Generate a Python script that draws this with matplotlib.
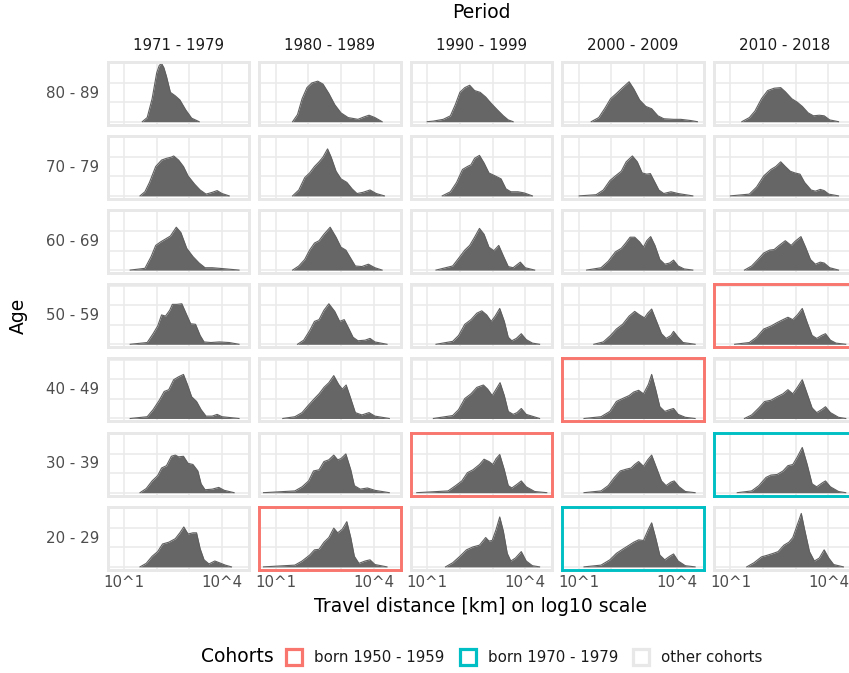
import matplotlib
matplotlib.use("Agg")
import matplotlib.pyplot as plt
from matplotlib.patches import Rectangle

# facet labels
periods = ["1971 - 1979", "1980 - 1989", "1990 - 1999", "2000 - 2009", "2010 - 2018"]
period_start = [1971, 1980, 1990, 2000, 2010]
ages = ["80 - 89", "70 - 79", "60 - 69", "50 - 59", "40 - 49", "30 - 39", "20 - 29"]
age_start = [80, 70, 60, 50, 40, 30, 20]

# cohorts: period start - age start
cohort_names = {1960: "born 1950 - 1959", 1980: "born 1970 - 1979"}
cohort_colors = {"born 1950 - 1959": "#F8766D", "born 1970 - 1979": "#00BFC4",
                 "other cohorts": "#E8E8E8"}

tick_pos = [1, 2, 3, 4]
tick_lab = ["10^1", "", "", "10^4"]

# density curves: (log10 km, density) per period
dens_80_89 = [
    [(1.56, 0), (1.71, 0.07), (1.86, 0.39), (2.0, 0.83), (2.08, 0.96), (2.15, 0.99), (2.22, 0.92),
     (2.30, 0.77), (2.42, 0.50), (2.57, 0.44), (2.71, 0.37), (2.89, 0.20), (3.07, 0.06), (3.30, 0)],
    [(1.52, 0), (1.67, 0.12), (1.81, 0.39), (1.96, 0.58), (2.11, 0.66), (2.29, 0.69), (2.45, 0.64),
     (2.63, 0.48), (2.81, 0.29), (3.0, 0.15), (3.22, 0.07), (3.52, 0.04), (3.70, 0.08), (3.86, 0.11),
     (4.04, 0.07), (4.26, 0)],
    [(1.0, 0), (1.19, 0.01), (1.49, 0.04), (1.71, 0.1), (1.86, 0.29), (2.0, 0.5), (2.15, 0.58),
     (2.30, 0.62), (2.45, 0.53), (2.62, 0.50), (2.79, 0.42), (2.96, 0.31), (3.15, 0.2), (3.33, 0.1),
     (3.48, 0.03), (3.63, 0)],
    [(1.38, 0), (1.61, 0.07), (1.80, 0.23), (1.97, 0.39), (2.15, 0.48), (2.34, 0.58), (2.54, 0.68),
     (2.68, 0.56), (2.86, 0.37), (3.05, 0.26), (3.23, 0.22), (3.42, 0.1), (3.60, 0.05), (3.90, 0.04),
     (4.12, 0.04), (4.42, 0.02), (4.63, 0)],
    [(1.35, 0), (1.58, 0.07), (1.75, 0.18), (1.95, 0.39), (2.14, 0.53), (2.34, 0.57), (2.54, 0.58),
     (2.68, 0.51), (2.88, 0.39), (3.05, 0.33), (3.20, 0.26), (3.38, 0.15), (3.54, 0.1), (3.72, 0.11),
     (3.87, 0.1), (4.04, 0.03), (4.31, 0)],
]
dens_70_79 = [
    [(1.49, 0), (1.64, 0.07), (1.78, 0.23), (1.97, 0.5), (2.15, 0.61), (2.30, 0.64), (2.45, 0.66),
     (2.52, 0.68), (2.67, 0.61), (2.82, 0.5), (2.96, 0.34), (3.16, 0.2), (3.33, 0.1), (3.51, 0.03),
     (3.70, 0.06), (3.85, 0.09), (4.0, 0.04), (4.22, 0)],
    [(1.52, 0), (1.71, 0.1), (1.89, 0.31), (2.04, 0.39), (2.19, 0.5), (2.33, 0.58), (2.45, 0.66),
     (2.59, 0.8), (2.70, 0.66), (2.85, 0.42), (3.0, 0.29), (3.18, 0.23), (3.34, 0.12), (3.49, 0.04),
     (3.67, 0.06), (3.89, 0.1), (4.08, 0.04), (4.33, 0)],
    [(1.46, 0), (1.71, 0.07), (1.90, 0.23), (2.08, 0.45), (2.23, 0.5), (2.34, 0.53), (2.45, 0.64),
     (2.60, 0.69), (2.74, 0.56), (2.89, 0.39), (3.08, 0.34), (3.26, 0.29), (3.41, 0.12), (3.56, 0.07),
     (3.78, 0.07), (3.97, 0.05), (4.22, 0)],
    [(1.01, 0), (1.53, 0.02), (1.75, 0.1), (1.95, 0.26), (2.12, 0.34), (2.30, 0.42), (2.45, 0.58),
     (2.64, 0.68), (2.79, 0.58), (2.94, 0.39), (3.08, 0.37), (3.19, 0.38), (3.33, 0.23), (3.45, 0.1),
     (3.60, 0.04), (3.82, 0.07), (4.04, 0.04), (4.49, 0)],
    [(1.0, 0), (1.58, 0.03), (1.80, 0.15), (2.02, 0.34), (2.24, 0.45), (2.39, 0.5), (2.54, 0.58),
     (2.68, 0.5), (2.83, 0.42), (2.98, 0.39), (3.13, 0.37), (3.27, 0.23), (3.47, 0.1), (3.60, 0.08),
     (3.75, 0.11), (3.87, 0.09), (4.01, 0.03), (4.31, 0)],
]
dens_60_69 = [
    [(1.19, 0), (1.64, 0.03), (1.83, 0.23), (1.97, 0.42), (2.12, 0.48), (2.27, 0.53), (2.42, 0.58),
     (2.60, 0.73), (2.74, 0.64), (2.92, 0.37), (3.11, 0.23), (3.30, 0.12), (3.48, 0.04), (3.70, 0.04),
     (3.92, 0.03), (4.52, 0)],
    [(1.52, 0), (1.71, 0.07), (1.89, 0.18), (2.04, 0.34), (2.19, 0.46), (2.33, 0.5), (2.48, 0.61),
     (2.67, 0.73), (2.85, 0.56), (3.0, 0.39), (3.15, 0.34), (3.30, 0.2), (3.44, 0.07), (3.64, 0.06),
     (3.84, 0.1), (4.04, 0.04), (4.26, 0)],
    [(1.27, 0), (1.78, 0.07), (1.96, 0.2), (2.15, 0.34), (2.30, 0.42), (2.45, 0.56), (2.60, 0.71),
     (2.74, 0.61), (2.89, 0.39), (3.04, 0.33), (3.19, 0.42), (3.34, 0.23), (3.48, 0.06), (3.63, 0.04),
     (3.85, 0.135), (4.0, 0.04), (4.29, 0)],
    [(1.24, 0), (1.68, 0.04), (1.90, 0.15), (2.12, 0.31), (2.30, 0.37), (2.42, 0.45), (2.57, 0.56),
     (2.71, 0.56), (2.86, 0.48), (2.98, 0.39), (3.08, 0.5), (3.20, 0.57), (3.33, 0.42), (3.48, 0.18),
     (3.63, 0.1), (3.78, 0.12), (3.90, 0.17), (4.04, 0.07), (4.22, 0.02), (4.49, 0)],
    [(1.43, 0), (1.65, 0.07), (1.84, 0.18), (2.02, 0.29), (2.20, 0.34), (2.34, 0.35), (2.49, 0.42),
     (2.68, 0.5), (2.86, 0.42), (2.98, 0.49), (3.16, 0.57), (3.30, 0.39), (3.45, 0.18), (3.60, 0.1),
     (3.75, 0.135), (3.87, 0.12), (4.04, 0.04), (4.31, 0)],
]
dens_50_59 = [
    [(1.19, 0), (1.71, 0.03), (1.89, 0.18), (2.03, 0.31), (2.15, 0.5), (2.27, 0.48), (2.40, 0.58),
     (2.48, 0.68), (2.62, 0.68), (2.77, 0.69), (2.92, 0.5), (3.04, 0.35), (3.19, 0.34), (3.33, 0.15),
     (3.45, 0.04), (3.66, 0.03), (3.92, 0.04), (4.22, 0.03), (4.52, 0)],
    [(1.67, 0), (1.86, 0.07), (2.04, 0.23), (2.19, 0.39), (2.33, 0.42), (2.48, 0.58), (2.63, 0.69),
     (2.81, 0.56), (2.96, 0.39), (3.10, 0.42), (3.22, 0.29), (3.37, 0.12), (3.52, 0.06), (3.74, 0.07),
     (3.89, 0.1), (4.04, 0.04), (4.41, 0)],
    [(1.27, 0), (1.78, 0.05), (1.96, 0.15), (2.15, 0.34), (2.34, 0.42), (2.52, 0.53), (2.67, 0.57),
     (2.82, 0.5), (2.96, 0.39), (3.08, 0.48), (3.22, 0.61), (3.36, 0.39), (3.48, 0.12), (3.59, 0.06),
     (3.73, 0.1), (3.88, 0.18), (4.03, 0.08), (4.22, 0.02), (4.44, 0)],
    [(1.46, 0), (1.75, 0.04), (1.97, 0.15), (2.15, 0.26), (2.34, 0.34), (2.54, 0.48), (2.71, 0.56),
     (2.86, 0.5), (3.01, 0.45), (3.11, 0.53), (3.23, 0.6), (3.38, 0.39), (3.53, 0.18), (3.67, 0.1),
     (3.82, 0.15), (3.90, 0.22), (4.04, 0.12), (4.19, 0.03), (4.56, 0)],
    [(1.13, 0), (1.58, 0.03), (1.80, 0.12), (2.02, 0.26), (2.24, 0.31), (2.43, 0.37), (2.61, 0.42),
     (2.76, 0.46), (2.91, 0.42), (3.05, 0.5), (3.20, 0.61), (3.35, 0.37), (3.50, 0.15), (3.64, 0.1),
     (3.79, 0.15), (3.91, 0.18), (4.06, 0.07), (4.23, 0.02), (4.53, 0)],
]
dens_40_49 = [
    [(1.19, 0), (1.71, 0.03), (1.89, 0.15), (2.08, 0.31), (2.23, 0.46), (2.37, 0.49), (2.52, 0.66),
     (2.67, 0.71), (2.82, 0.75), (2.94, 0.58), (3.07, 0.37), (3.22, 0.29), (3.36, 0.15), (3.51, 0.04),
     (3.70, 0.04), (3.85, 0.07), (4.0, 0.03), (4.52, 0)],
    [(1.22, 0), (1.59, 0.03), (1.81, 0.1), (2.01, 0.23), (2.19, 0.34), (2.33, 0.42), (2.48, 0.53),
     (2.63, 0.61), (2.78, 0.73), (2.93, 0.58), (3.04, 0.5), (3.16, 0.57), (3.30, 0.34), (3.44, 0.1),
     (3.64, 0.06), (3.86, 0.1), (4.04, 0.04), (4.48, 0)],
    [(1.19, 0), (1.78, 0.05), (1.96, 0.15), (2.15, 0.34), (2.34, 0.42), (2.52, 0.53), (2.72, 0.57),
     (2.85, 0.5), (2.99, 0.39), (3.11, 0.5), (3.23, 0.61), (3.36, 0.39), (3.48, 0.12), (3.63, 0.07),
     (3.75, 0.1), (3.88, 0.17), (4.03, 0.07), (4.44, 0)],
    [(1.16, 0), (1.68, 0.03), (1.95, 0.12), (2.15, 0.29), (2.34, 0.34), (2.54, 0.39), (2.68, 0.45),
     (2.83, 0.48), (2.98, 0.42), (3.13, 0.58), (3.23, 0.75), (3.35, 0.5), (3.48, 0.2), (3.63, 0.12),
     (3.78, 0.15), (3.90, 0.17), (4.04, 0.07), (4.26, 0.02), (4.56, 0)],
    [(1.43, 0), (1.65, 0.06), (1.87, 0.18), (2.05, 0.29), (2.24, 0.31), (2.43, 0.37), (2.61, 0.42),
     (2.76, 0.49), (2.91, 0.42), (3.05, 0.53), (3.20, 0.66), (3.35, 0.42), (3.50, 0.18), (3.64, 0.1),
     (3.79, 0.15), (3.91, 0.2), (4.06, 0.1), (4.31, 0.02), (4.53, 0)],
]
dens_30_39 = [
    [(1.49, 0), (1.68, 0.07), (1.86, 0.2), (2.03, 0.29), (2.15, 0.42), (2.30, 0.46), (2.45, 0.62),
     (2.57, 0.64), (2.67, 0.61), (2.82, 0.62), (2.96, 0.5), (3.11, 0.48), (3.26, 0.37), (3.36, 0.15),
     (3.48, 0.05), (3.70, 0.06), (3.90, 0.09), (4.07, 0.04), (4.37, 0)],
    [(0.63, 0), (1.59, 0.03), (1.81, 0.1), (2.01, 0.2), (2.16, 0.37), (2.33, 0.39), (2.48, 0.53),
     (2.63, 0.56), (2.78, 0.64), (2.90, 0.56), (3.0, 0.58), (3.15, 0.66), (3.30, 0.39), (3.41, 0.12),
     (3.59, 0.06), (3.81, 0.08), (4.04, 0.04), (4.48, 0)],
    [(0.68, 0), (1.64, 0.03), (1.87, 0.12), (2.06, 0.2), (2.23, 0.34), (2.40, 0.39), (2.60, 0.48),
     (2.74, 0.57), (2.89, 0.53), (3.01, 0.48), (3.11, 0.58), (3.22, 0.65), (3.36, 0.39), (3.48, 0.12),
     (3.59, 0.08), (3.73, 0.135), (3.88, 0.2), (4.03, 0.1), (4.29, 0.02), (4.66, 0)],
    [(1.16, 0), (1.68, 0.03), (1.90, 0.12), (2.09, 0.26), (2.27, 0.37), (2.45, 0.4), (2.60, 0.42),
     (2.71, 0.48), (2.83, 0.53), (2.98, 0.45), (3.11, 0.56), (3.23, 0.64), (3.38, 0.42), (3.53, 0.2),
     (3.67, 0.12), (3.82, 0.18), (3.92, 0.2), (4.07, 0.1), (4.26, 0.02), (4.56, 0)],
    [(1.21, 0), (1.65, 0.03), (1.87, 0.12), (2.09, 0.26), (2.24, 0.3), (2.43, 0.31), (2.61, 0.37),
     (2.76, 0.46), (2.91, 0.48), (3.05, 0.61), (3.20, 0.77), (3.35, 0.48), (3.50, 0.15), (3.64, 0.1),
     (3.82, 0.17), (3.91, 0.2), (4.06, 0.1), (4.31, 0.02), (4.53, 0)],
]
dens_20_29 = [
    [(1.49, 0), (1.68, 0.06), (1.86, 0.18), (2.03, 0.26), (2.18, 0.39), (2.37, 0.42), (2.57, 0.48),
     (2.71, 0.58), (2.83, 0.68), (2.96, 0.56), (3.11, 0.58), (3.22, 0.58), (3.33, 0.31), (3.45, 0.12),
     (3.60, 0.05), (3.78, 0.1), (3.92, 0.07), (4.10, 0.03), (4.29, 0)],
    [(0.63, 0), (1.59, 0.03), (1.81, 0.1), (2.04, 0.2), (2.19, 0.29), (2.33, 0.3), (2.48, 0.42),
     (2.63, 0.5), (2.78, 0.66), (2.90, 0.58), (3.04, 0.64), (3.18, 0.77), (3.30, 0.5), (3.41, 0.18),
     (3.55, 0.06), (3.74, 0.1), (3.89, 0.12), (4.04, 0.04), (4.41, 0)],
    [(1.56, 0), (1.78, 0.07), (2.0, 0.18), (2.20, 0.29), (2.40, 0.34), (2.60, 0.37), (2.79, 0.5),
     (2.89, 0.44), (2.99, 0.45), (3.11, 0.64), (3.22, 0.85), (3.33, 0.61), (3.45, 0.23), (3.56, 0.1),
     (3.70, 0.15), (3.88, 0.26), (4.03, 0.1), (4.22, 0.02), (4.44, 0)],
    [(1.16, 0), (1.68, 0.03), (1.95, 0.12), (2.15, 0.23), (2.34, 0.3), (2.54, 0.37), (2.68, 0.42),
     (2.83, 0.46), (2.98, 0.45), (3.13, 0.64), (3.23, 0.75), (3.35, 0.5), (3.48, 0.2), (3.63, 0.12),
     (3.78, 0.18), (3.90, 0.22), (4.04, 0.1), (4.26, 0.02), (4.56, 0)],
    [(1.50, 0), (1.72, 0.07), (1.95, 0.17), (2.14, 0.2), (2.31, 0.23), (2.46, 0.26), (2.64, 0.37),
     (2.79, 0.42), (2.91, 0.5), (3.05, 0.72), (3.17, 0.91), (3.27, 0.64), (3.42, 0.26), (3.57, 0.1),
     (3.72, 0.15), (3.87, 0.29), (4.01, 0.15), (4.16, 0.04), (4.46, 0)],
]
dens_rows = [dens_80_89, dens_70_79, dens_60_69, dens_50_59, dens_40_49, dens_30_39, dens_20_29]

W, H = 849, 673
fig = plt.figure(figsize=(W / 100, H / 100), dpi=100)

# panel layout in pixels
x0, dx, pw = 107.5, 151.6, 141.5
y0, dy, ph = 61.5, 74.2, 63

for i, age in enumerate(ages):
    for j, per in enumerate(periods):
        left = x0 + j * dx
        top = y0 + i * dy
        ax = fig.add_axes([left / W, 1 - (top + ph) / H, pw / W, ph / H])
        pts = dens_rows[i][j]
        xs = [p[0] for p in pts]
        ys = [p[1] for p in pts]
        ax.fill_between(xs, 0, ys, color="#666666", lw=0, zorder=2)
        ax.plot(xs, ys, color="#5f5f5f", lw=0.8, zorder=3)
        ax.set_xlim(0.495, 4.826)
        ax.set_ylim(-0.048, 1.025)
        ax.set_xticks(tick_pos)
        ax.set_yticks([0, 1 / 3, 2 / 3, 1])
        ax.set_yticklabels([])
        ax.grid(True, color="#EBEBEB", lw=1.2)
        ax.set_axisbelow(True)
        ax.tick_params(length=0)
        if i == len(ages) - 1:
            ax.set_xticklabels(tick_lab, fontsize=10.8, color="#4D4D4D")
            ax.tick_params(axis="x", pad=4)
        else:
            ax.set_xticklabels([])
        key = period_start[j] - age_start[i]
        coh = cohort_names.get(key, "other cohorts")
        for s in ax.spines.values():
            s.set_color(cohort_colors[coh])
            s.set_linewidth(2.1)
            s.set_zorder(5)
        if i == 0:
            fig.text((left + pw / 2) / W, 1 - 46 / H, per, ha="center", va="center",
                     fontsize=10.8, color="#1A1A1A")
    fig.text(99 / W, 1 - (y0 + i * dy + ph / 2) / H, age, ha="right", va="center",
             fontsize=10.8, color="#4D4D4D")

# titles
fig.text(481 / W, 1 - 12 / H, "Period", ha="center", va="center", fontsize=13.5)
fig.text(481 / W, 1 - 606 / H, "Travel distance [km] on log10 scale", ha="center",
         va="center", fontsize=13.5)
fig.text(18 / W, 1 - 316 / H, "Age", ha="center", va="center", rotation=90, fontsize=13.5)

# legend
ly = 657
fig.text(201 / W, 1 - ly / H, "Cohorts", ha="left", va="center", fontsize=13.5)
leg_items = ["born 1950 - 1959", "born 1970 - 1979", "other cohorts"]
key_x = [294, 468, 641]
for name, kx in zip(leg_items, key_x):
    fig.patches.append(Rectangle(((kx - 8) / W, 1 - (ly + 8) / H), 16 / W, 16 / H,
                                 transform=fig.transFigure, facecolor="white",
                                 edgecolor=cohort_colors[name], lw=2.3))
    fig.text((kx + 20) / W, 1 - ly / H, name, ha="left", va="center", fontsize=10.8,
             color="#1A1A1A")

plt.savefig("out.png", dpi=100)
plt.close()
